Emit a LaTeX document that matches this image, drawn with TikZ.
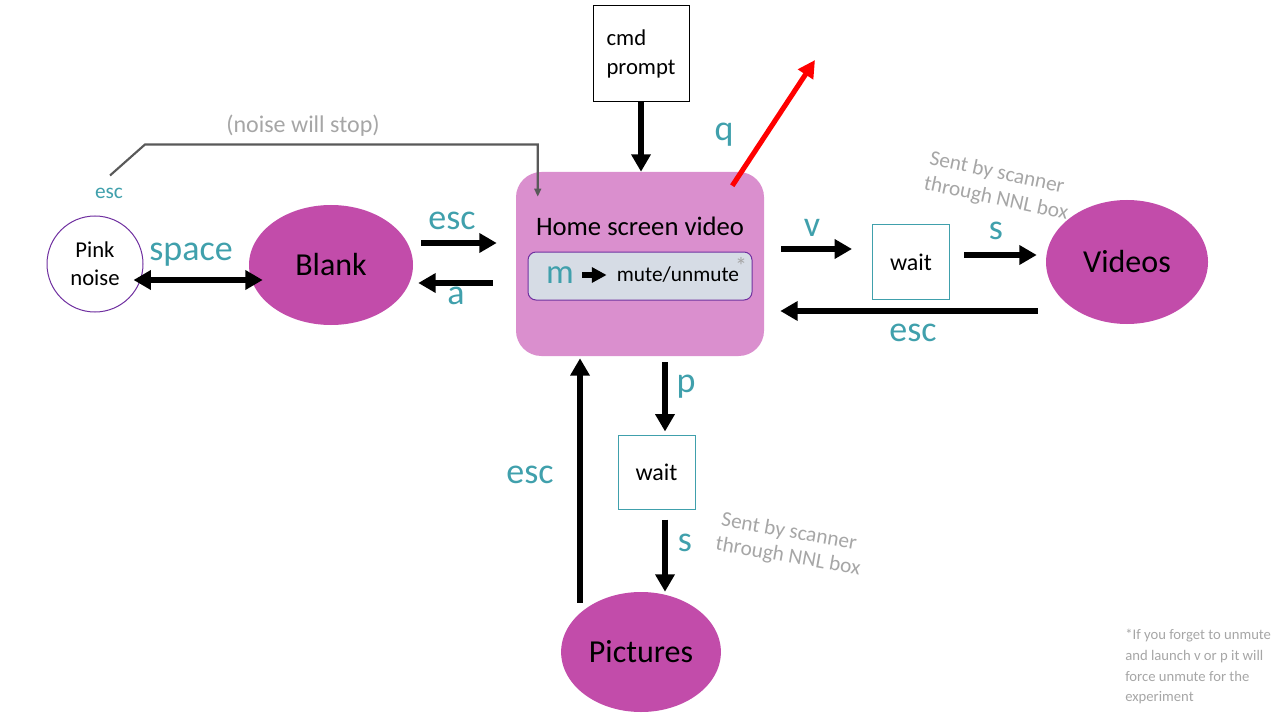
\documentclass[tikz,border=0pt]{standalone}
\usepackage{fontspec}
\setmainfont{Carlito}
\usetikzlibrary{arrows.meta,calc,shapes.geometric}
\definecolor{tealc}{RGB}{64,160,172}
\definecolor{magc}{RGB}{194,76,170}
\definecolor{homec}{RGB}{218,143,206}
\definecolor{innerc}{RGB}{214,220,229}
\definecolor{purpc}{RGB}{112,48,160}
\definecolor{lightgray}{RGB}{166,166,166}
\definecolor{darkgray}{RGB}{89,89,89}
\newcommand{\fsz}[2]{\fontsize{#1}{#2}\selectfont}
\begin{document}
\begin{tikzpicture}[x=0.75pt,y=-0.75pt,
  arr/.style={line width=5pt,-{Triangle[length=13pt,width=14pt]}},
  darr/.style={line width=5pt,{Triangle[length=13pt,width=14pt]}-{Triangle[length=13pt,width=14pt]}},
  redarr/.style={line width=3.8pt,red,-{Triangle[length=13pt,width=13pt]}},
  smallarr/.style={line width=4pt,-{Triangle[length=11pt,width=11pt]}},
  grayarr/.style={line width=1.6pt,darkgray,-{Triangle[length=6pt,width=5pt]}},
  bigell/.style={ellipse,fill=magc,font=\fsz{24}{28}},
  waitbox/.style={draw=tealc,line width=0.75pt,fill=white,minimum width=57.75pt,minimum height=55.5pt,font=\fsz{18}{22}},
  keylab/.style={text=tealc,inner sep=0pt,font=\fsz{27}{30}},
  note/.style={text=lightgray,inner sep=0pt,font=\fsz{16}{19}}
]
\useasboundingbox (0,0) rectangle (1280,720);

% main nodes
\node[circle,draw=purpc,line width=0.75pt,fill=white,minimum size=72pt,inner sep=0pt,align=center,font=\fsz{17}{21}] (pink) at (95,264) {Pink\\noise};
\node[bigell,minimum width=123pt,minimum height=90pt] (blank) at (331,265) {Blank};
\node[bigell,minimum width=121.5pt,minimum height=93pt] (videos) at (1127,262) {Videos};
\node[bigell,minimum width=118.5pt,minimum height=90pt] (pictures) at (641,652) {Pictures};
\node[rectangle,rounded corners=19pt,fill=homec,minimum width=186pt,minimum height=138pt] (home) at (640,264) {};
\node[inner sep=0pt,font=\fsz{20}{24}] (hometitle) at (640,226) {Home screen video};
\node[rectangle,rounded corners=6pt,fill=innerc,draw=purpc,line width=0.75pt,minimum width=168pt,minimum height=36pt] (inner) at (640,276) {};
\node[text=tealc,inner sep=0pt,font=\fsz{26}{30}] (mlabel) at (560,275) {m};
\node[inner sep=0pt,font=\fsz{16}{19}] (mute) at (678,275) {mute/unmute};
\node[text=lightgray,inner sep=0pt,font=\fsz{18}{20}] (star) at (741,266) {*};
\node[draw=black,line width=0.75pt,fill=white,minimum width=72pt,minimum height=72pt,align=left,font=\fsz{17}{22}] (cmd) at (641,54) {cmd\\prompt};
\node[waitbox] (wait1) at (911,262) {wait};
\node[waitbox] (wait2) at (656.5,472) {wait};
\coordinate (qend) at (815,60);

% labels
\node[text=lightgray,inner sep=0pt,font=\fsz{18}{22}] (noisestop) at (303,126) {(noise will stop)};
\node[text=tealc,inner sep=0pt,font=\fsz{16}{19}] (escsmall) at (109,193) {esc};
\node[keylab] (lesc1) at (452,221) {esc};
\node[keylab] (la) at (456,296) {a};
\node[keylab] (lspace) at (191,255) {space};
\node[keylab] (lv) at (812,228) {v};
\node[keylab] (ls1) at (996,231) {s};
\node[keylab] (lesc2) at (913,333) {esc};
\node[keylab] (lp) at (686,387) {p};
\node[keylab] (ls2) at (685,543) {s};
\node[keylab] (lesc3) at (530,475) {esc};
\node[keylab] (lq) at (724,135) {q};
\node[note,rotate=-12] (sent1a) at (997,173) {Sent by scanner};
\node[note,rotate=-12] (sent1b) at (996,199) {through NNL box};
\node[note,rotate=-10] (sent2a) at (789,532) {Sent by scanner};
\node[note,rotate=-10] (sent2b) at (788,557) {through NNL box};
\node[text=lightgray,anchor=north west,align=left,inner sep=0pt,font=\fsz{11}{15.5}] (foot) at (1125,629) {*If you forget to unmute\\and launch v or p it will\\force unmute for the\\experiment};

% connectors
\draw[arr] (cmd.south) -- (cmd.south |- home.north);
\draw[redarr] ($(home.north east)+(-32,14)$) -- (qend);
\draw[grayarr] ($(escsmall.north)+(1,-12)$) -- ++(35,-31) -| ($(home.north west)+(22,25)$);
\draw[arr] ($(blank.east)+(8,-22)$) -- ($(home.west)+(-19,-21)$);
\draw[arr] ($(home.west)+(-23,19)$) -- ($(blank.east)+(5,18)$);
\draw[darr] ($(pink.east)+(-10,16)$) -- ($(blank.west)+(14,15)$);
\draw[arr] ($(home.east)+(17,-15)$) -- ($(wait1.west)+(-20,-13)$);
\draw[arr] ($(wait1.east)+(14,-7)$) -- ($(videos.west)+(-9,-7)$);
\draw[arr] ($(videos.west)+(-8,49)$) -- ($(home.east)+(16,47)$);
\draw[arr] ($(home.south)+(25,6)$) -- ($(wait2.north)+(8.5,-3)$);
\draw[arr] ($(wait2.south)+(8.5,10)$) -- ($(pictures.north)+(24,0)$);
\draw[arr] ($(pictures.north)+(-61,11)$) -- ($(home.south)+(-60,2)$);
\draw[smallarr] ($(mlabel.east)+(8,0)$) -- ($(mlabel.east -| mute.west)+(-10,0)$);
\end{tikzpicture}
\end{document}
